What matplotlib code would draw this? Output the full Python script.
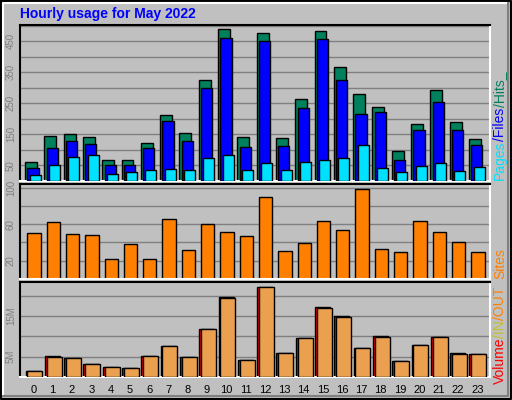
import matplotlib.pyplot as plt
import numpy as np

plt.rcParams['font.family'] = ['Liberation Sans', 'DejaVu Sans']

hours = list(range(24))
hits = [61, 145, 152, 142, 68, 68, 123, 213, 155, 326, 490, 142,
        477, 139, 265, 484, 368, 281, 239, 97, 184, 294, 190, 135]
files = [42, 106, 129, 119, 52, 52, 106, 194, 129, 300, 461, 110,
         452, 113, 235, 458, 326, 216, 223, 68, 165, 255, 165, 116]
pages = [19, 52, 77, 84, 23, 29, 35, 39, 35, 74, 84, 35,
         58, 35, 61, 68, 74, 116, 42, 29, 48, 58, 32, 45]
sites = [50, 62, 49, 48, 22, 38, 22, 66, 32, 60, 52, 47,
         90, 31, 39, 63, 54, 99, 33, 30, 63, 52, 40, 30]
vol_in = [1.5, 5.2, 4.8, 3.3, 2.5, 2.3, 5.2, 7.7, 5.0, 11.9, 19.8, 4.3,
          22.2, 6.0, 9.7, 17.3, 15.1, 7.2, 10.2, 4.0, 7.9, 9.9, 6.0, 5.7]
vol_out = [1.5, 5.0, 4.7, 3.3, 2.5, 2.3, 5.2, 7.7, 5.0, 11.9, 19.5, 4.3,
           22.2, 6.0, 9.7, 17.0, 14.8, 7.2, 9.9, 4.0, 7.9, 9.9, 5.7, 5.7]

W, H = 512, 400
BG = '#c0c0c0'
fig = plt.figure(figsize=(W / 100, H / 100), dpi=100, facecolor=BG)

# outer 3D frame
frame = fig.add_axes([0, 0, 1, 1])
frame.set_xlim(0, W)
frame.set_ylim(H, 0)
frame.axis('off')
frame.plot([1, W - 1, W - 1, 1, 1], [1, 1, H - 1, H - 1, 1], color='black', lw=1.5)
frame.plot([3, 3, W - 4], [H - 4, 3, 3], color='white', lw=1.5)
frame.plot([3, W - 4, W - 4], [H - 4, H - 4, 3], color='#808080', lw=1.5)

SLOT = 19.3  # pixels per hour
X0 = -5 / SLOT
X1 = X0 + 470 / SLOT


def panel(top, bottom):
    ax = fig.add_axes([20 / W, 1 - bottom / H, 470 / W, (bottom - top) / H])
    ax.set_facecolor(BG)
    ax.spines['top'].set_color('black')
    ax.spines['left'].set_color('black')
    ax.spines['bottom'].set_color('white')
    ax.spines['right'].set_color('white')
    for s in ax.spines.values():
        s.set_linewidth(1.5)
    ax.set_xlim(X0, X1)
    ax.set_xticks([])
    ax.tick_params(axis='y', length=0, labelsize=7, labelcolor='#808080', pad=3)
    return ax


x = np.array(hours)

# Hits / Files / Pages
ax1 = panel(25, 181)
ax1.set_ylim(0, 502)
for g in range(50, 501, 50):
    ax1.axhline(g, color='#808080', lw=1, zorder=0)
ax1.bar(x, hits, width=0.62, align='edge', color='#00805c', edgecolor='black', lw=1, zorder=2)
ax1.bar(x + 0.12, files, width=0.58, align='edge', color='#0000ff', edgecolor='black', lw=1, zorder=3)
ax1.bar(x + 0.24, pages, width=0.57, align='edge', color='#00e0ff', edgecolor='black', lw=1, zorder=4)
ax1.set_yticks([50, 150, 250, 350, 450])
ax1.set_yticklabels(['50', '150', '250', '350', '450'], rotation=90, va='center')

# Sites
ax2 = panel(184, 279)
ax2.set_ylim(0, 104)
for g in range(20, 101, 20):
    ax2.axhline(g, color='#808080', lw=1, zorder=0)
ax2.bar(x + 0.12, sites, width=0.69, align='edge', color='#ff8000', edgecolor='black', lw=1, zorder=2)
ax2.set_yticks([20, 60, 100])
ax2.set_yticklabels(['20', '60', '100'], rotation=90, va='center')

# Volume
ax3 = panel(282, 377)
ax3.set_ylim(0, 23.4)
for g in range(5, 21, 5):
    ax3.axhline(g, color='#808080', lw=1, zorder=0)
ax3.bar(x + 0.03, vol_in, width=0.78, align='edge', color='#ff0000', edgecolor='black', lw=1, zorder=2)
ax3.bar(x + 0.12, vol_out, width=0.78, align='edge', color='#eba050', edgecolor='black', lw=1, zorder=3)
ax3.set_yticks([5, 15])
ax3.set_yticklabels(['5M', '15M'], rotation=90, va='center')
ax3.set_xticks(x + 0.43)
ax3.set_xticklabels([str(h) for h in hours])
ax3.tick_params(axis='x', length=0, labelsize=8, labelcolor='black', pad=6)

# title
frame.text(20, 14, 'Hourly usage for May 2022', color='#0000ff', fontsize=10,
           fontweight='bold', va='center', ha='left')

# right side coloured labels, stacked bottom-to-top by measured extent
renderer = fig.canvas.get_renderer()


def side(pieces, y0):
    y = y0
    for txt, col in pieces:
        t = frame.text(500, y, txt, color=col, fontsize=10, rotation=90,
                       ha='center', va='bottom')
        ext = t.get_window_extent(renderer)
        y -= ext.height


side([('Pages', '#00e0ff'), ('/Files', '#0000ff'), ('/Hits_', '#00805c')], 180)
side([('Sites', '#ff8000')], 279)
side([('Volume', '#ff0000'), ('/IN', '#c0c030'), ('/OUT', '#ff8000')], 384)

fig.savefig('out.png', dpi=100, facecolor=BG)
